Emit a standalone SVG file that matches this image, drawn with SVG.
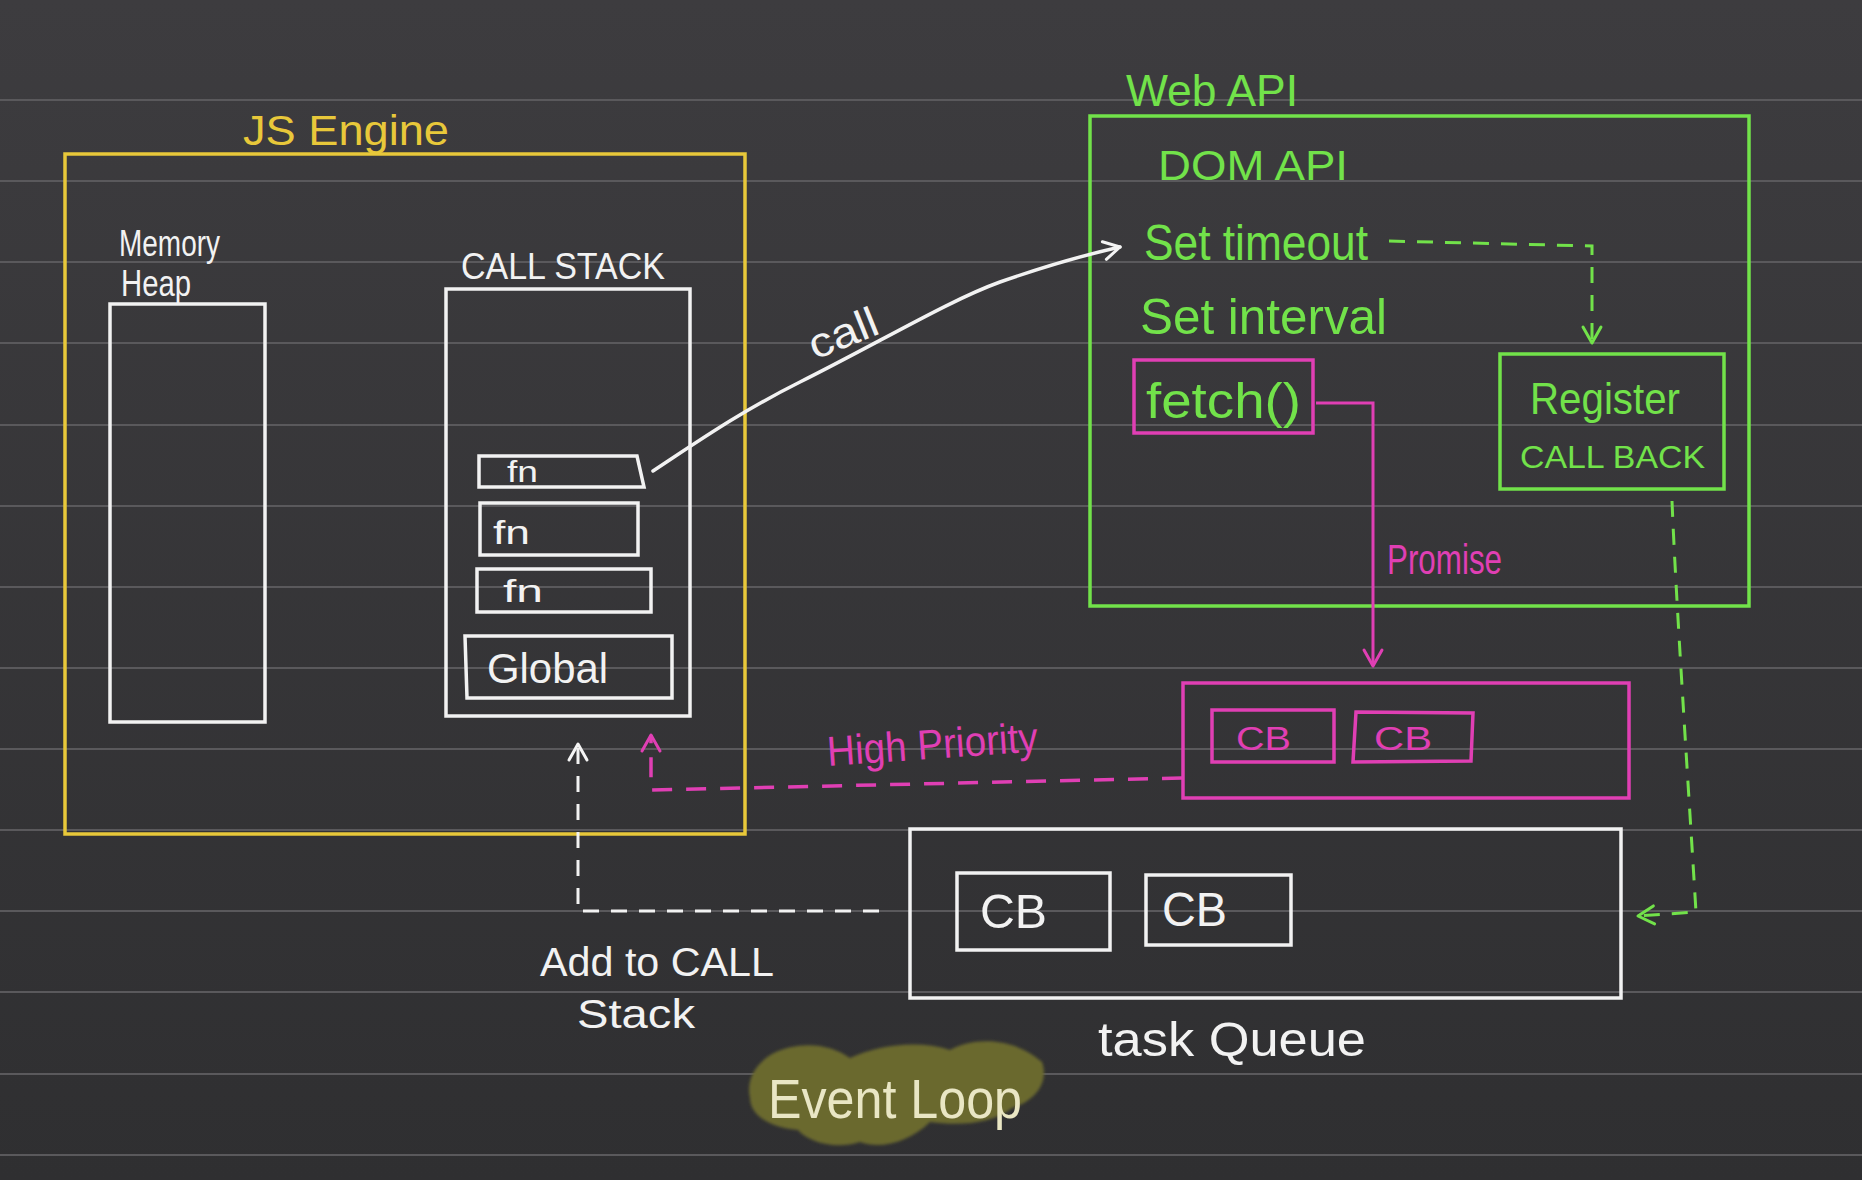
<svg xmlns="http://www.w3.org/2000/svg" width="1862" height="1180" viewBox="0 0 1862 1180">
<defs>
<linearGradient id="bg" x1="0" y1="0" x2="0" y2="1">
<stop offset="0" stop-color="#3d3c3f"/>
<stop offset="1" stop-color="#2f2f31"/>
</linearGradient>
<marker id="aw" viewBox="0 0 24 24" refX="20" refY="12" markerWidth="24" markerHeight="24" markerUnits="userSpaceOnUse" orient="auto">
<path d="M4,3 L20,12 L4,21" fill="none" stroke="#f4f4f4" stroke-width="3" stroke-linecap="round" stroke-linejoin="round"/>
</marker>
<marker id="ag" viewBox="0 0 24 24" refX="20" refY="12" markerWidth="24" markerHeight="24" markerUnits="userSpaceOnUse" orient="auto">
<path d="M4,3 L20,12 L4,21" fill="none" stroke="#72e24a" stroke-width="3" stroke-linecap="round" stroke-linejoin="round"/>
</marker>
<marker id="am" viewBox="0 0 24 24" refX="20" refY="12" markerWidth="24" markerHeight="24" markerUnits="userSpaceOnUse" orient="auto">
<path d="M4,3 L20,12 L4,21" fill="none" stroke="#e03fb4" stroke-width="3" stroke-linecap="round" stroke-linejoin="round"/>
</marker>
<filter id="soft" x="-10%" y="-10%" width="120%" height="120%"><feGaussianBlur stdDeviation="1.5"/></filter>
</defs>
<style>
.t{font-family:"Liberation Sans",Arial,sans-serif;}
.w{fill:#f2f2f2;}
.y{fill:#e8c83a;}
.g{fill:#72e24a;}
.m{fill:#e03fb4;}
.bw{fill:none;stroke:#f2f2f2;stroke-width:3.5;}
.by{fill:none;stroke:#e8c83a;stroke-width:3.5;}
.bg{fill:none;stroke:#72e24a;stroke-width:3.5;}
.bm{fill:none;stroke:#e03fb4;stroke-width:3.5;}
.rule{stroke:#5a595c;stroke-width:2;}
.dash{stroke-dasharray:16 12;}
</style>
<rect width="1862" height="1180" fill="url(#bg)"/>
<g id="rules">
<line class="rule" x1="0" y1="100" x2="1862" y2="100"/>
<line class="rule" x1="0" y1="181" x2="1862" y2="181"/>
<line class="rule" x1="0" y1="262" x2="1862" y2="262"/>
<line class="rule" x1="0" y1="343" x2="1862" y2="343"/>
<line class="rule" x1="0" y1="425" x2="1862" y2="425"/>
<line class="rule" x1="0" y1="506" x2="1862" y2="506"/>
<line class="rule" x1="0" y1="587" x2="1862" y2="587"/>
<line class="rule" x1="0" y1="668" x2="1862" y2="668"/>
<line class="rule" x1="0" y1="749" x2="1862" y2="749"/>
<line class="rule" x1="0" y1="830" x2="1862" y2="830"/>
<line class="rule" x1="0" y1="911" x2="1862" y2="911"/>
<line class="rule" x1="0" y1="992" x2="1862" y2="992"/>
<line class="rule" x1="0" y1="1074" x2="1862" y2="1074"/>
<line class="rule" x1="0" y1="1155" x2="1862" y2="1155"/>
</g>
<g id="js-engine">
<rect class="by" x="65" y="154" width="680" height="680"/>
<text class="t y" x="243" y="145" font-size="42" textLength="206" lengthAdjust="spacingAndGlyphs">JS  Engine</text>
</g>
<g id="memory-heap">
<text class="t w" x="119" y="256" font-size="36" textLength="101" lengthAdjust="spacingAndGlyphs">Memory</text>
<text class="t w" x="121" y="296" font-size="36" textLength="70" lengthAdjust="spacingAndGlyphs">Heap</text>
<rect class="bw" x="110" y="304" width="155" height="418"/>
</g>
<g id="call-stack">
<text class="t w" x="461" y="279" font-size="36" textLength="204" lengthAdjust="spacingAndGlyphs">CALL  STACK</text>
<rect class="bw" x="446" y="289" width="244" height="427"/>
</g>
<g id="fn1">
<path class="bw" d="M479,456 L637,456 L644,487 L479,487 Z"/>
<text class="t w" x="507" y="482" font-size="30" textLength="31" lengthAdjust="spacingAndGlyphs">fn</text>
</g>
<g id="fn2">
<rect class="bw" x="480" y="503" width="158" height="52"/>
<text class="t w" x="493" y="544" font-size="34" textLength="37" lengthAdjust="spacingAndGlyphs">fn</text>
</g>
<g id="fn3">
<rect class="bw" x="477" y="569" width="174" height="43"/>
<text class="t w" x="503" y="602" font-size="32" textLength="40" lengthAdjust="spacingAndGlyphs">fn</text>
</g>
<g id="global">
<path class="bw" d="M465,636 L672,636 L672,698 L467,698 Z"/>
<text class="t w" x="487" y="683" font-size="42" textLength="121" lengthAdjust="spacingAndGlyphs">Global</text>
</g>
<g id="web-api">
<rect class="bg" x="1090" y="116" width="659" height="490"/>
<text class="t g" x="1126" y="106" font-size="44" textLength="172" lengthAdjust="spacingAndGlyphs">Web  API</text>
<text class="t g" x="1158" y="180" font-size="42" textLength="190" lengthAdjust="spacingAndGlyphs">DOM  API</text>
<text class="t g" x="1144" y="260" font-size="50" textLength="224" lengthAdjust="spacingAndGlyphs">Set  timeout</text>
<text class="t g" x="1140" y="334" font-size="50" textLength="247" lengthAdjust="spacingAndGlyphs">Set  interval</text>
</g>
<g id="fetch">
<rect class="bm" x="1134" y="360" width="179" height="73"/>
<text class="t g" x="1146" y="418" font-size="50" textLength="155" lengthAdjust="spacingAndGlyphs">fetch()</text>
</g>
<g id="register-callback">
<rect class="bg" x="1500" y="354" width="224" height="135"/>
<text class="t g" x="1530" y="414" font-size="44" textLength="150" lengthAdjust="spacingAndGlyphs">Register</text>
<text class="t g" x="1520" y="468" font-size="32" textLength="185" lengthAdjust="spacingAndGlyphs">CALL BACK</text>
</g>
<g id="microtask-queue">
<rect class="bm" x="1183" y="683" width="446" height="115"/>
<rect class="bm" x="1212" y="710" width="122" height="52"/>
<text class="t m" x="1236" y="750" font-size="34" textLength="55" lengthAdjust="spacingAndGlyphs">CB</text>
<path class="bm" d="M1356,712 L1473,713 L1471,761 L1353,762 Z"/>
<text class="t m" x="1374" y="750" font-size="34" textLength="58" lengthAdjust="spacingAndGlyphs">CB</text>
</g>
<g id="task-queue">
<rect class="bw" x="910" y="829" width="711" height="169"/>
<rect class="bw" x="957" y="873" width="153" height="77"/>
<text class="t w" x="980" y="928" font-size="48" textLength="67" lengthAdjust="spacingAndGlyphs">CB</text>
<rect class="bw" x="1146" y="875" width="145" height="70"/>
<text class="t w" x="1162" y="926" font-size="48" textLength="65" lengthAdjust="spacingAndGlyphs">CB</text>
<text class="t w" x="1098" y="1056" font-size="48" textLength="268" lengthAdjust="spacingAndGlyphs">task  Queue</text>
</g>
<g id="event-loop">
<path d="M772,1054 C800,1040 830,1044 850,1058 C880,1044 920,1040 950,1050 C975,1036 1015,1038 1042,1062 C1050,1085 1032,1102 1012,1108 C992,1124 960,1126 930,1122 C910,1142 880,1150 860,1142 C835,1150 808,1142 798,1130 C772,1128 750,1116 750,1098 C746,1080 755,1064 772,1054 Z" fill="#6a692d" filter="url(#soft)"/>
<text class="t" x="768" y="1118" font-size="56" fill="#e9e6c4" textLength="254" lengthAdjust="spacingAndGlyphs">Event  Loop</text>
</g>
<g id="connectors">
<path d="M653,471 C700,440 740,412 800,382 C880,342 950,300 1000,282 C1040,268 1080,256 1120,247" fill="none" stroke="#f2f2f2" stroke-width="3.5" stroke-linecap="round" marker-end="url(#aw)"/>
<text class="t w" x="0" y="0" font-size="42" transform="translate(815,360) rotate(-22)" textLength="72" lengthAdjust="spacingAndGlyphs">call</text>
<path class="dash" d="M1389,241 L1592,246 L1592,343" fill="none" stroke="#72e24a" stroke-width="3" marker-end="url(#ag)"/>
<path d="M1316,403 L1373,403 L1373,666" fill="none" stroke="#e03fb4" stroke-width="3" marker-end="url(#am)"/>
<text class="t m" x="1387" y="574" font-size="42" textLength="115" lengthAdjust="spacingAndGlyphs">Promise</text>
<path class="dash" d="M1672,501 C1676,600 1688,780 1696,912 L1638,916" fill="none" stroke="#72e24a" stroke-width="3" marker-end="url(#ag)"/>
<path d="M1182,778 L651,790 L651,735" fill="none" stroke="#e03fb4" stroke-width="3.5" stroke-dasharray="20 14" marker-end="url(#am)"/>
<text class="t m" x="0" y="0" font-size="42" transform="translate(828,766) rotate(-4)" textLength="211" lengthAdjust="spacingAndGlyphs">High Priority</text>
<path class="dash" d="M879,911 L578,911 L578,744" fill="none" stroke="#f2f2f2" stroke-width="3" marker-end="url(#aw)"/>
<text class="t w" x="540" y="976" font-size="40" textLength="234" lengthAdjust="spacingAndGlyphs">Add to CALL</text>
<text class="t w" x="577" y="1028" font-size="40" textLength="118" lengthAdjust="spacingAndGlyphs">Stack</text>
</g>
</svg>
